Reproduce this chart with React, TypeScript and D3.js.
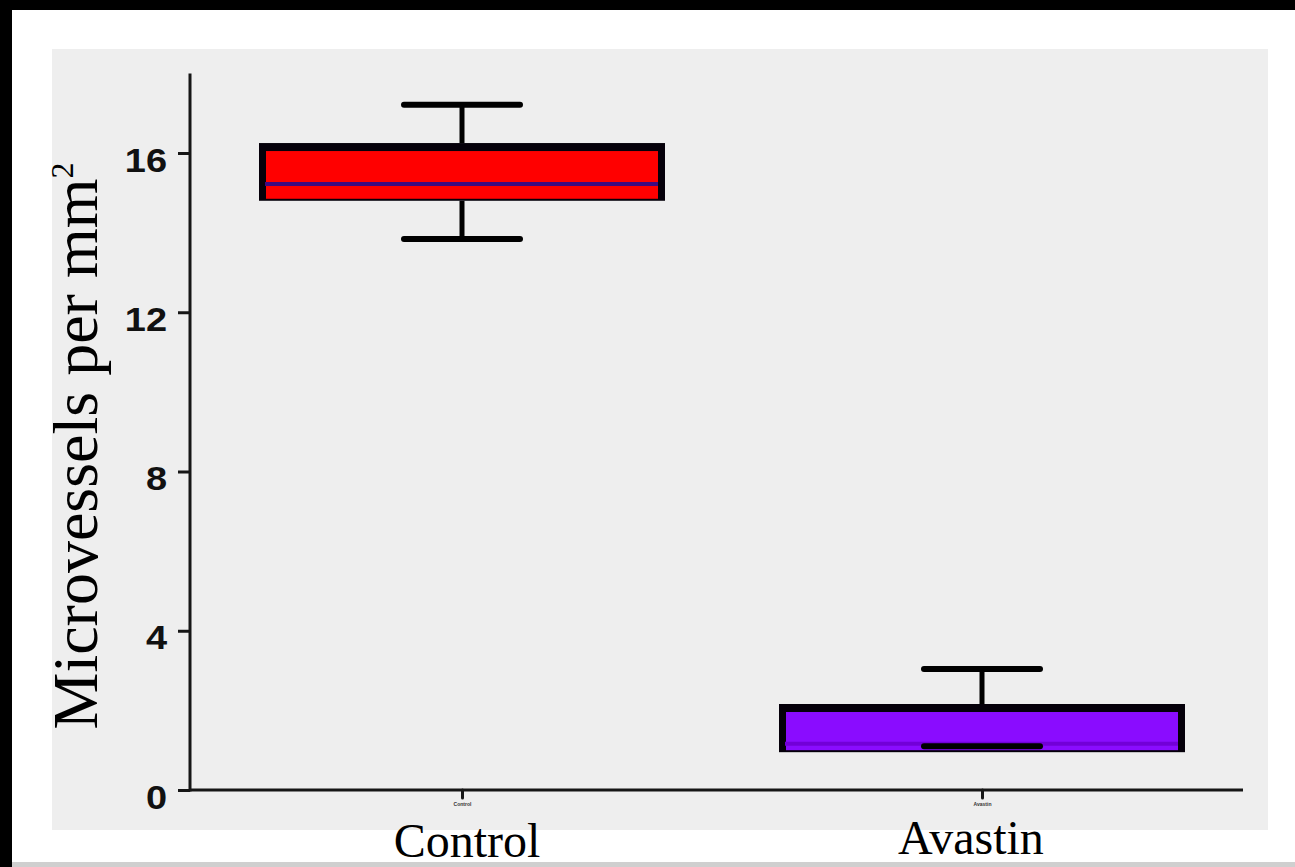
import { useRef, useEffect } from 'react';
import * as d3 from 'd3';

// values (microvessels per mm²)
const categories = ['Control', 'Avastin'];
const lowerQuartile = [14.8, 0.95];
const medians = [15.22, 1.16];
const upperQuartile = [16.25, 2.16];
const whiskerLow = [13.84, 1.1];
const whiskerHigh = [17.21, 3.04];
const yTicks = [0, 4, 8, 12, 16];
const yAxisMax = 18;

const W = 1295;
const H = 867;

export default function App() {
  const svgRef = useRef<SVGSVGElement>(null);

  useEffect(() => {
    if (!svgRef.current) return;
    const svg = d3.select(svgRef.current);
    svg.selectAll('*').remove();

    // slide background: black frame, white card, grey plot panel
    svg.append('rect').attr('width', W).attr('height', H).attr('fill', '#000');
    svg.append('rect')
      .attr('x', 12).attr('y', 10)
      .attr('width', W - 12).attr('height', 852)
      .attr('fill', '#fff');
    svg.append('rect')
      .attr('x', 12).attr('y', 862)
      .attr('width', W - 12).attr('height', 5)
      .attr('fill', '#cfcfcf');
    svg.append('rect')
      .attr('x', 52).attr('y', 49)
      .attr('width', 1216).attr('height', 781)
      .attr('fill', '#eeeeee');

    const y = d3.scaleLinear().domain([0, 16]).range([790, 153]);
    const x = d3.scalePoint<string>().domain(categories).range([462, 982]);

    const axisColor = '#161616';

    // Y axis
    const yAxis = d3.axisLeft(y).tickValues(yTicks).tickSize(12).tickFormat(d => String(d));
    const yg = svg.append('g')
      .attr('transform', 'translate(190,0)')
      .call(yAxis);
    yg.select('.domain').remove();
    yg.selectAll('.tick line')
      .attr('stroke', axisColor)
      .attr('stroke-width', 3);
    yg.selectAll('.tick text')
      .attr('x', 0)
      .attr('dy', null)
      .attr('transform', 'translate(-23,18) scale(1.15,1)')
      .attr('text-anchor', 'end')
      .attr('fill', '#111')
      .attr('font-family', '"Liberation Sans", Arial, sans-serif')
      .attr('font-weight', 'bold')
      .attr('font-size', 33);
    svg.append('line')
      .attr('x1', 190).attr('x2', 190)
      .attr('y1', y(0) + 1.5).attr('y2', y(yAxisMax))
      .attr('stroke', axisColor)
      .attr('stroke-width', 3);

    // X axis (tiny tick labels, as in the original export)
    const xAxis = d3.axisBottom(x).tickSize(8).tickPadding(4);
    const xg = svg.append('g')
      .attr('transform', `translate(0,${y(0)})`)
      .call(xAxis);
    xg.select('.domain').remove();
    xg.selectAll('.tick line')
      .attr('stroke', axisColor)
      .attr('stroke-width', 3)
      .attr('stroke-linecap', 'round');
    xg.selectAll('.tick text')
      .attr('fill', '#333')
      .attr('font-family', '"Liberation Sans", Arial, sans-serif')
      .attr('font-weight', 'bold')
      .attr('font-size', 5);
    svg.append('line')
      .attr('x1', 190).attr('x2', 1243)
      .attr('y1', y(0)).attr('y2', y(0))
      .attr('stroke', axisColor)
      .attr('stroke-width', 3);

    // Boxes
    const boxColors = ['#ff0000', '#8a0cff'];
    const half = 203;
    const capHalf = 58;

    categories.forEach((c, i) => {
      const cx = x(c) as number;
      const top = y(upperQuartile[i]);
      const bottom = y(lowerQuartile[i]);
      const g = svg.append('g');

      // upper whisker
      g.append('line')
        .attr('x1', cx).attr('x2', cx)
        .attr('y1', top).attr('y2', y(whiskerHigh[i]))
        .attr('stroke', '#000').attr('stroke-width', 5);
      g.append('line')
        .attr('x1', cx - capHalf).attr('x2', cx + capHalf)
        .attr('y1', y(whiskerHigh[i])).attr('y2', y(whiskerHigh[i]))
        .attr('stroke', '#000').attr('stroke-width', 6)
        .attr('stroke-linecap', 'round');

      // lower whisker stem (only if it leaves the box)
      if (whiskerLow[i] < lowerQuartile[i]) {
        g.append('line')
          .attr('x1', cx).attr('x2', cx)
          .attr('y1', bottom).attr('y2', y(whiskerLow[i]))
          .attr('stroke', '#000').attr('stroke-width', 5);
      }

      // box: dark frame + coloured fill
      g.append('rect')
        .attr('x', cx - half).attr('y', top)
        .attr('width', half * 2).attr('height', bottom - top)
        .attr('fill', '#05000a');
      g.append('rect')
        .attr('x', cx - half + 7).attr('y', top + 8)
        .attr('width', half * 2 - 14).attr('height', bottom - top - 10)
        .attr('fill', boxColors[i]);

      // median
      g.append('line')
        .attr('x1', cx - half + 6).attr('x2', cx + half - 7)
        .attr('y1', y(medians[i])).attr('y2', y(medians[i]))
        .attr('stroke', i === 0 ? '#3d0a80' : '#7200d8')
        .attr('stroke-width', 4);

      // lower cap
      g.append('line')
        .attr('x1', cx - capHalf).attr('x2', cx + capHalf)
        .attr('y1', y(whiskerLow[i])).attr('y2', y(whiskerLow[i]))
        .attr('stroke', '#000').attr('stroke-width', 6)
        .attr('stroke-linecap', 'round');
    });

    // Y title
    const yTitle = svg.append('text')
      .attr('transform', 'translate(97,446) rotate(-90)')
      .attr('text-anchor', 'middle')
      .attr('font-family', '"Liberation Serif", "Times New Roman", serif')
      .attr('font-size', 64)
      .attr('fill', '#000');
    yTitle.append('tspan').text('Microvessels per mm');
    yTitle.append('tspan')
      .attr('font-size', 32)
      .attr('dy', -24)
      .text('2');

    // big category labels under the panel
    const labelShift = [5, -11];
    const labelBase = [857, 854];
    categories.forEach((c, i) => {
      svg.append('text')
        .attr('x', (x(c) as number) + labelShift[i])
        .attr('y', labelBase[i])
        .attr('text-anchor', 'middle')
        .attr('font-family', '"Liberation Serif", "Times New Roman", serif')
        .attr('font-size', 48)
        .attr('fill', '#000')
        .text(c);
    });
  }, []);

  return (
    <div style={{ position: 'absolute', left: 0, top: 0 }}>
      <svg ref={svgRef} width={W} height={H} style={{ display: 'block' }} />
    </div>
  );
}
